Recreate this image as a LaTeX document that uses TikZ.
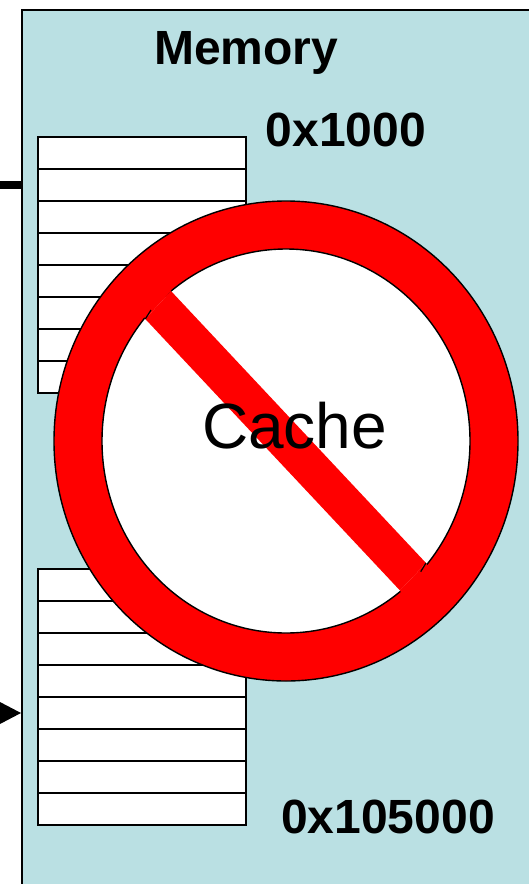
\documentclass[tikz,border=0pt]{standalone}
\usepackage{fontspec}
\setmainfont{Liberation Sans}
\definecolor{membg}{HTML}{BAE0E3}
\definecolor{nored}{HTML}{FF0000}
\tikzset{
  rowbox/.style={draw=black,line width=1.5pt,fill=white},
  rowline/.style={draw=black,line width=1.5pt},
  memlabel/.style={inner sep=0pt,anchor=base west,font=\fontsize{48}{48}\selectfont\bfseries},
  cachelabel/.style={inner sep=0pt,anchor=base west,font=\fontsize{64}{64}\selectfont},
  ringedge/.style={draw=black,line width=1.4pt}
}
\begin{document}
\begin{tikzpicture}[x=1pt,y=-1pt]
\useasboundingbox (0,0) rectangle (529,884);
\begin{scope}
\clip (0,0) rectangle (529,884);
% memory panel
\fill[membg] (22,10) rectangle (540,900);
\draw[black,line width=2pt] (22,900) -- (22,10) -- (540,10);
% stacks
\foreach \t in {137,569}{
  \draw[rowbox] (38,\t) rectangle (246,\t+256);
  \foreach \k in {1,...,7}{
    \draw[rowline] (38,\t+32*\k) -- (246,\t+32*\k);
  }
}
% incoming line and arrowhead
\coordinate (stubA) at (-2,185);
\coordinate (stubB) at (21,185);
\draw[black,line width=8pt] (stubA) -- (stubB);
\fill[black] (21,713) -- (-1,701.5) -- (-1,724.5) -- cycle;
% prohibition sign
\fill[nored] (286,441) ellipse [x radius=232,y radius=240];
\draw[ringedge] (286,441) ellipse [x radius=232,y radius=240];
\draw[ringedge,fill=white] (286,441) ellipse [x radius=184,y radius=192];
\fill[nored] (145.3,319) -- (171,291) -- (426,563) -- (400,590.5) -- cycle;
% bar ends run on into the ring, hiding the inner outline there
\fill[nored] (145.3,319) -- (171,291) -- (163,276) -- (137,304) -- cycle;
\fill[nored] (426,563) -- (400,590.5) -- (408,604) -- (434,577) -- cycle;
\draw[black,line width=1.2pt] (145.3,319) -- (151,310);
\draw[black,line width=1.2pt] (426,563) -- (420.7,571.7);
\end{scope}
% labels
\node[memlabel] (mem) at (154,64.5) {Memory};
\node[memlabel] (lo) at (265.5,146) {0x1000};
\node[memlabel] (hi) at (281,833.5) {0x105000};
\node[cachelabel] (cache) at (202,448) {Cache};
\end{tikzpicture}
\end{document}
